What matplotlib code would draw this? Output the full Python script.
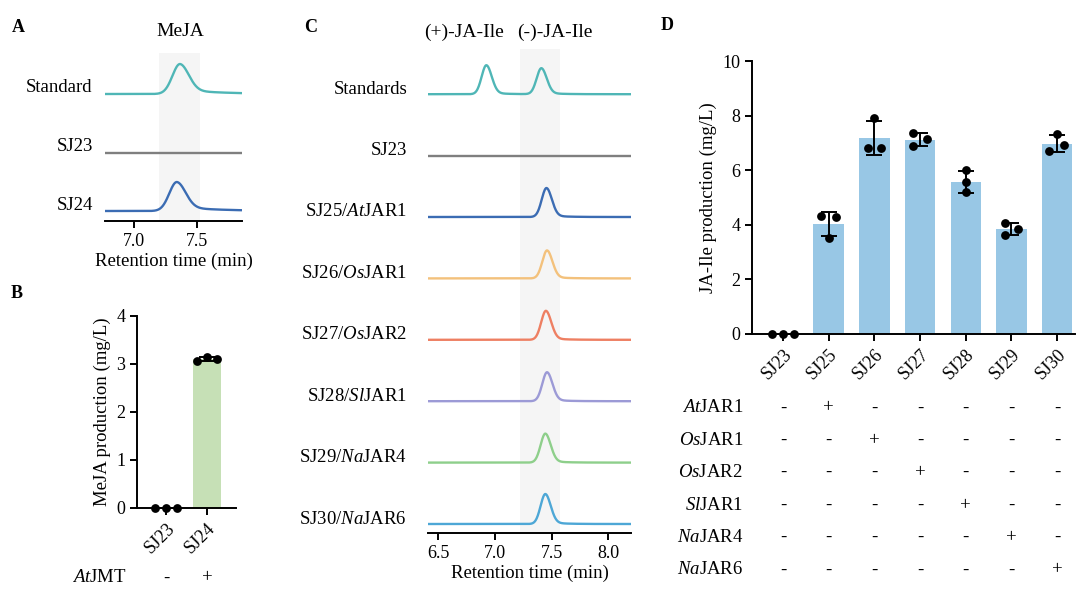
import numpy as np
import matplotlib
matplotlib.use('Agg')
import matplotlib.pyplot as plt
from matplotlib.transforms import blended_transform_factory

# ---------------- data ----------------
# Panel A: MeJA chromatograms
a_samples = ['Standard', 'SJ23', 'SJ24']
a_peak_rt = [7.365, None, 7.34]
a_peak_height = [30, 0, 29]
a_window = (7.20, 7.52)
a_xticks = [7.0, 7.5]

# Panel B: MeJA production (mg/L), three replicates
b_strains = ['SJ23', 'SJ24']
b_reps = [[0.0, 0.0, 0.0], [3.06, 3.14, 3.10]]
b_gene = r'$\mathit{At}$JMT'
b_gene_strain = 'SJ24'

# Panel C: JA-Ile chromatograms
c_samples = ['Standards', 'SJ23', r'SJ25/$\mathit{At}$JAR1', r'SJ26/$\mathit{Os}$JAR1',
             r'SJ27/$\mathit{Os}$JAR2', r'SJ28/$\mathit{Sl}$JAR1', r'SJ29/$\mathit{Na}$JAR4',
             r'SJ30/$\mathit{Na}$JAR6']
c_peak_rt = [[6.925, 7.41], [], [7.455], [7.46], [7.45], [7.46], [7.445], [7.445]]
c_peak_height = [[29, 26], [], [29], [28], [29], [29], [29], [30]]
c_window = (7.22, 7.57)
c_xticks = [6.5, 7.0, 7.5, 8.0]
c_titles = ['(+)-JA-Ile', '(-)-JA-Ile']

# Panel D: JA-Ile production (mg/L), three replicates
d_strains = ['SJ23', 'SJ25', 'SJ26', 'SJ27', 'SJ28', 'SJ29', 'SJ30']
d_reps = [[0.0, 0.0, 0.0],
          [4.32, 3.53, 4.27],
          [6.81, 7.90, 6.81],
          [7.35, 7.13, 6.87],
          [5.99, 5.55, 5.19],
          [4.05, 3.83, 3.62],
          [6.71, 7.31, 6.91]]
d_genes = [r'$\mathit{At}$JAR1', r'$\mathit{Os}$JAR1', r'$\mathit{Os}$JAR2',
           r'$\mathit{Sl}$JAR1', r'$\mathit{Na}$JAR4', r'$\mathit{Na}$JAR6']
d_gene_strain = ['SJ25', 'SJ26', 'SJ27', 'SJ28', 'SJ29', 'SJ30']
d_yticks = [0, 2, 4, 6, 8, 10]

# ---------------- style ----------------
a_colors = ['#4fb6b6', '#7f7f7f', '#3b6cb3']
c_colors = ['#4fb6b6', '#7f7f7f', '#3b6cb3', '#f3c17c', '#ee7f62', '#9c9ad6', '#8ecf8b', '#4da7d6']
b_jitter = [[-0.27, 0.0, 0.27], [-0.25, 0.0, 0.24]]
d_jitter = [[-0.25, 0.0, 0.25], [-0.17, 0.0, 0.15], [-0.15, 0.0, 0.15], [-0.15, 0.14, -0.15],
            [0.0, 0.0, 0.0], [-0.15, 0.15, -0.15], [-0.18, 0.0, 0.15]]
shade = '#f5f5f5'
LW = 1.4

plt.rcParams['font.family'] = ['Liberation Serif', 'DejaVu Serif']
plt.rcParams['font.size'] = 13.5
plt.rcParams['mathtext.fontset'] = 'custom'
plt.rcParams['mathtext.rm'] = 'Liberation Serif'
plt.rcParams['mathtext.it'] = 'Liberation Serif:italic'
plt.rcParams['axes.linewidth'] = LW
for k in ('xtick', 'ytick'):
    plt.rcParams[k + '.major.width'] = LW
    plt.rcParams[k + '.major.size'] = 5
    plt.rcParams[k + '.direction'] = 'out'
    plt.rcParams[k + '.labelsize'] = 13

W, H = 1076, 590
fig = plt.figure(figsize=(W / 100, H / 100), dpi=100)


def px_axes(l, t, r, b):
    return fig.add_axes([l / W, 1 - b / H, (r - l) / W, (b - t) / H])


def ftext(x, y, s, **kw):
    fig.text(x / W, 1 - y / H, s, **kw)


def peak(x, rt, h, sl, sr, tail, tau):
    d = x - rt
    left = np.exp(-0.5 * (d / sl) ** 2)
    right = (1 - tail) * np.exp(-0.5 * (d / sr) ** 2) + tail * np.exp(-np.clip(d, 0, None) / tau)
    return h * np.where(d < 0, left, right)


def chrom_axes(ax, xlim, xticks):
    ax.set_xlim(*xlim)
    for s in ('left', 'top', 'right'):
        ax.spines[s].set_visible(False)
    ax.set_yticks([])
    ax.set_xticks(xticks)
    ax.set_xticklabels([f'{t:.1f}' for t in xticks])
    ax.patch.set_alpha(0)


# ---------------- Panel A ----------------
axA = px_axes(105, 53, 242, 221)
xlimA = (6.77, 7.857)
chrom_axes(axA, xlimA, a_xticks)
axA.set_ylim(0, 168)
axA.axvspan(*a_window, color=shade, zorder=0, lw=0)
xa = np.linspace(*xlimA, 800)
trA = blended_transform_factory(axA.transAxes, axA.transData)
for i, name in enumerate(a_samples):
    base = 10 + (len(a_samples) - 1 - i) * 58.5
    y = np.full_like(xa, base)
    if a_peak_rt[i] is not None:
        y = y + peak(xa, a_peak_rt[i], a_peak_height[i], 0.06, 0.07, 0.15, 0.3)
    axA.plot(xa, y, color=a_colors[i], lw=1.7, solid_capstyle='butt')
    axA.text(-0.09, base + 6, name, transform=trA, ha='right', va='center')
axA.set_xlabel('Retention time (min)', labelpad=2)
ftext(180, 32, 'MeJA', ha='center', va='center', fontsize=14)

# ---------------- Panel C ----------------
axC = px_axes(428, 49, 631, 533)
xlimC = (6.41, 8.20)
chrom_axes(axC, xlimC, c_xticks)
axC.set_ylim(0, 484)
axC.axvspan(*c_window, color=shade, zorder=0, lw=0)
xc = np.linspace(*xlimC, 1000)
trC = blended_transform_factory(axC.transAxes, axC.transData)
for i, name in enumerate(c_samples):
    base = 9 + (len(c_samples) - 1 - i) * 61.4
    y = np.full_like(xc, base)
    for rt, h in zip(c_peak_rt[i], c_peak_height[i]):
        y = y + peak(xc, rt, h, 0.042, 0.047, 0.07, 0.12)
    axC.plot(xc, y, color=c_colors[i], lw=1.7, solid_capstyle='butt')
    axC.text(-0.103, base + 5, name, transform=trC, ha='right', va='center')
axC.set_xlabel('Retention time (min)', labelpad=2)
ftext(464, 32, c_titles[0], ha='center', va='center', fontsize=14)
ftext(555, 32, c_titles[1], ha='center', va='center', fontsize=14)


# ---------------- bar panels ----------------
def bar_panel(ax, strains, reps, jitter, width, color, xlim, ylim, yticks, ylabel):
    x = np.arange(len(strains))
    means = np.array([np.mean(r) for r in reps])
    sds = np.array([np.std(r, ddof=1) for r in reps])
    ax.bar(x, means, width=width, color=color, zorder=1)
    ax.errorbar(x, means, yerr=sds, fmt='none', ecolor='black', elinewidth=LW,
                capsize=6, capthick=LW, zorder=3)
    for i, r in enumerate(reps):
        ax.scatter(x[i] + np.array(jitter[i]), r, s=40, color='black', zorder=4,
                   clip_on=False, linewidths=0)
    ax.set_xlim(*xlim)
    ax.set_ylim(*ylim)
    ax.set_yticks(yticks)
    ax.set_xticks(x)
    ax.set_xticklabels(strains, rotation=45, ha='right', va='top', rotation_mode='anchor')
    for s in ('top', 'right'):
        ax.spines[s].set_visible(False)
    ax.set_ylabel(ylabel)
    ax.patch.set_alpha(0)
    return x


axB = px_axes(137, 316, 236, 508)
xb = bar_panel(axB, b_strains, b_reps, b_jitter, 0.7, '#c6e0b6', (-0.71, 1.71), (0, 4),
               [0, 1, 2, 3, 4], 'MeJA production (mg/L)')
trB = blended_transform_factory(axB.transData, fig.transFigure)
ftext(127, 578, b_gene, ha='right', va='center')
for xi, s in zip(xb, b_strains):
    axB.text(xi, 1 - 578 / H, '+' if s == b_gene_strain else '-', transform=trB,
             ha='center', va='center')

axD = px_axes(752, 61, 1075, 334)
xd = bar_panel(axD, d_strains, d_reps, d_jitter, 0.67, '#98c7e5', (-0.68, 6.39), (0, 10),
               d_yticks, 'JA-Ile production (mg/L)')
trD = blended_transform_factory(axD.transData, fig.transFigure)
for j, g in enumerate(d_genes):
    yy = 408 + j * 32.4
    ftext(743, yy, g, ha='right', va='center')
    for xi, s in zip(xd, d_strains):
        axD.text(xi, 1 - yy / H, '+' if s == d_gene_strain[j] else '-', transform=trD,
                 ha='center', va='center')

# ---------------- panel labels ----------------
for lab, (x, y) in {'A': (18, 27), 'B': (17, 293), 'C': (311, 27), 'D': (667, 25)}.items():
    ftext(x, y, lab, ha='center', va='center', fontsize=13, fontweight='bold')

fig.savefig('out.png', dpi=100)
